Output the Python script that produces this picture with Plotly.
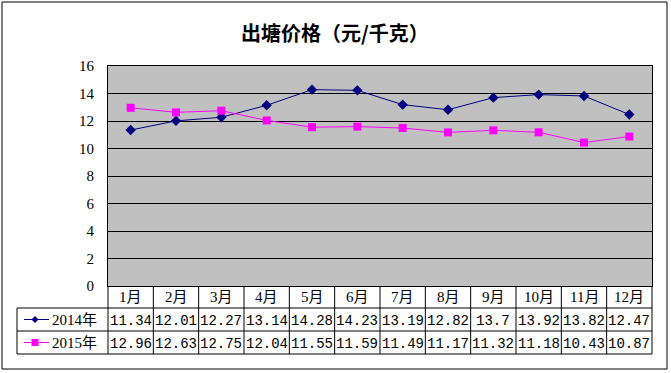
import plotly.graph_objects as go

months = ["1月", "2月", "3月", "4月", "5月", "6月", "7月", "8月", "9月", "10月", "11月", "12月"]
s2014_name = "2014年"
s2015_name = "2015年"
s2014 = [11.34, 12.01, 12.27, 13.14, 14.28, 14.23, 13.19, 12.82, 13.7, 13.92, 13.82, 12.47]
s2015 = [12.96, 12.63, 12.75, 12.04, 11.55, 11.59, 11.49, 11.17, 11.32, 11.18, 10.43, 10.87]
title_text = "出塘价格（元/千克）"
ytick_vals = [0, 2, 4, 6, 8, 10, 12, 14, 16]

W, H = 671, 373
def px(x): return x / W
def py(y): return 1 - y / H

L, R, T, B = 108, 652, 66, 286
ROW1, ROW2, ROW3 = 308, 331, 354
TL = 17
NAVY = "#000080"
MAG = "#FF00FF"

fig = go.Figure()
xs = list(range(len(months)))
fig.add_trace(go.Scatter(x=xs, y=s2014, mode="lines+markers", line=dict(color=NAVY, width=1),
                         marker=dict(symbol="diamond", size=8, color=NAVY), showlegend=False))
fig.add_trace(go.Scatter(x=xs, y=s2015, mode="lines+markers", line=dict(color=MAG, width=1),
                         marker=dict(symbol="square", size=8, color=MAG), showlegend=False))

fig.update_layout(
    width=W, height=H,
    margin=dict(l=0, r=0, t=0, b=0, autoexpand=False),
    paper_bgcolor="white",
    plot_bgcolor="#C0C0C0",
    xaxis=dict(domain=[px(L), px(R)], range=[-0.5, len(months) - 0.5], showticklabels=False,
               showgrid=False, zeroline=False, showline=True, linecolor="black", linewidth=1,
               mirror=True, fixedrange=True, automargin=False),
    yaxis=dict(domain=[py(B), py(T)], range=[0, 16], tickvals=ytick_vals, showgrid=True,
               gridcolor="black", gridwidth=1, zeroline=False, showline=True, linecolor="black",
               linewidth=1, mirror=True, ticks="", ticklabelstandoff=10, automargin=False,
               tickfont=dict(family="Liberation Serif, serif", size=15, color="black")),
)

shapes = []
def line(x0, y0, x1, y1, color="black", w=1):
    shapes.append(dict(type="line", xref="paper", yref="paper", x0=px(x0), y0=py(y0),
                       x1=px(x1), y1=py(y1), line=dict(color=color, width=w)))

# outer border
shapes.append(dict(type="rect", xref="paper", yref="paper", x0=px(2), y0=py(369), x1=px(667), y1=py(2),
                   line=dict(color="black", width=1)))
# table
cw = (R - L) / len(months)
for i in range(len(months) + 1):
    x = L + i * cw
    line(x, B, x, ROW3)
line(L, ROW1, R, ROW1)
line(TL, ROW1, L, ROW1)
line(TL, ROW2, R, ROW2)
line(TL, ROW3, R, ROW3)
line(TL, ROW1, TL, ROW3)

# legend keys inside table
y1 = (ROW1 + ROW2) / 2
line(24, y1, 49, y1, NAVY)
d = 3.5
shapes.append(dict(type="path", xref="paper", yref="paper",
                   path=f"M {px(35-d)},{py(y1)} L {px(35)},{py(y1-d)} L {px(35+d)},{py(y1)} L {px(35)},{py(y1+d)} Z",
                   fillcolor=NAVY, line=dict(color=NAVY, width=0)))
y2 = (ROW2 + ROW3) / 2
line(24, y2, 49, y2, MAG)
s = 3.5
shapes.append(dict(type="rect", xref="paper", yref="paper", x0=px(35-s), x1=px(35+s), y0=py(y2+s), y1=py(y2-s),
                   fillcolor=MAG, line=dict(color=MAG, width=0)))
fig.update_layout(shapes=shapes)

ann = []
def text(t, x, y, size, family, xanchor="center", bold=False):
    f = dict(family=family, size=size, color="black")
    if bold:
        f["weight"] = "bold"
    ann.append(dict(text=t, x=px(x), y=py(y), xref="paper", yref="paper", showarrow=False,
                    xanchor=xanchor, yanchor="middle", font=f))

text(title_text, 335, 32, 20, "Noto Sans CJK SC", bold=True)
cjk = "Liberation Serif, Noto Sans CJK SC"
mono = "Liberation Mono, monospace"
for i, m in enumerate(months):
    xc = L + (i + 0.5) * cw
    text(m, xc, (B + ROW1) / 2, 15, cjk)
    text(f"{s2014[i]:g}", xc, (ROW1 + ROW2) / 2 + 1, 14, mono)
    text(f"{s2015[i]:g}", xc, (ROW2 + ROW3) / 2 + 1, 14, mono)
text(s2014_name, 50, (ROW1 + ROW2) / 2, 15, cjk, xanchor="left")
text(s2015_name, 50, (ROW2 + ROW3) / 2, 15, cjk, xanchor="left")
fig.update_layout(annotations=ann)

fig.write_html("out.html", config=dict(displayModeBar=False),
               post_script="document.body.style.margin='0';")
